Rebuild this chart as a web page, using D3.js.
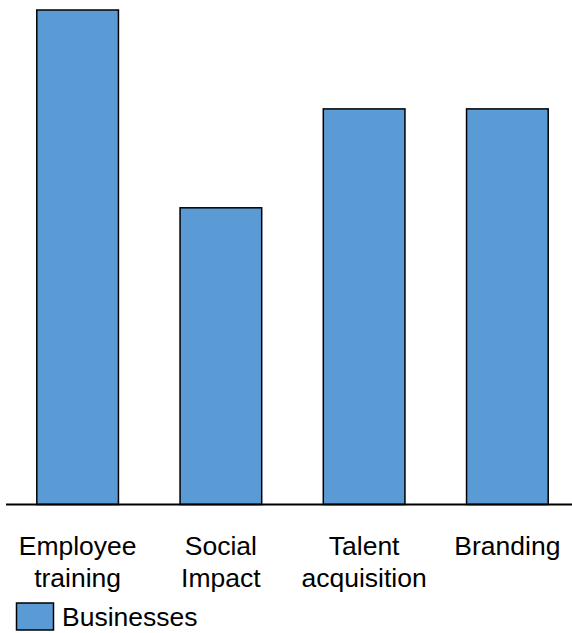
<!DOCTYPE html>
<html>
<head>
<meta charset="utf-8">
<script src="https://cdn.jsdelivr.net/npm/d3@7"></script>
<style>
  body { margin: 0; background: #fff; }
  text { font-family: "Liberation Sans", Arial, sans-serif; fill: #000; }
</style>
</head>
<body>
<svg id="chart" width="572" height="633"></svg>
<script>
// chart data
var categories = ["Employee training", "Social Impact", "Talent acquisition", "Branding"];
var labelLines = [["Employee", "training"], ["Social", "Impact"], ["Talent", "acquisition"], ["Branding"]];
var businesses = [5, 3, 4, 4];
var seriesName = "Businesses";

var svg = d3.select("#chart");

var x = d3.scaleBand()
  .domain(categories)
  .range([6, 579])
  .paddingInner(0.43)
  .paddingOuter(0.215);

var y = d3.scaleLinear()
  .domain([0, 5])
  .range([504.5, 10]);

// bars
svg.append("g")
  .selectAll("rect")
  .data(businesses)
  .enter()
  .append("rect")
  .attr("x", function(d, i) { return x(categories[i]); })
  .attr("y", function(d) { return y(d); })
  .attr("width", x.bandwidth())
  .attr("height", function(d) { return y(0) - y(d); })
  .attr("fill", "#5b9bd5")
  .attr("stroke", "#000")
  .attr("stroke-width", 1.5);

// baseline
svg.append("line")
  .attr("x1", 6)
  .attr("x2", 572)
  .attr("y1", y(0))
  .attr("y2", y(0))
  .attr("stroke", "#000")
  .attr("stroke-width", 2);

// category labels
var labels = svg.append("g")
  .selectAll("text")
  .data(categories)
  .enter()
  .append("text")
  .attr("text-anchor", "middle")
  .attr("font-size", 26.5)
  .attr("x", function(d) { return x(d) + x.bandwidth() / 2; })
  .attr("y", 555);

labels.selectAll("tspan")
  .data(function(d, i) { return labelLines[i]; })
  .enter()
  .append("tspan")
  .attr("x", function() { var p = this.parentNode; return p.getAttribute("x"); })
  .attr("dy", function(d, j) { return j === 0 ? 0 : 32; })
  .text(function(d) { return d; });

// legend
var legend = svg.append("g");
legend.append("rect")
  .attr("x", 16.5)
  .attr("y", 603)
  .attr("width", 37)
  .attr("height", 27)
  .attr("fill", "#5b9bd5")
  .attr("stroke", "#000")
  .attr("stroke-width", 1.5);
legend.append("text")
  .attr("x", 62)
  .attr("y", 626)
  .attr("font-size", 26.5)
  .text(seriesName);
</script>
</body>
</html>
